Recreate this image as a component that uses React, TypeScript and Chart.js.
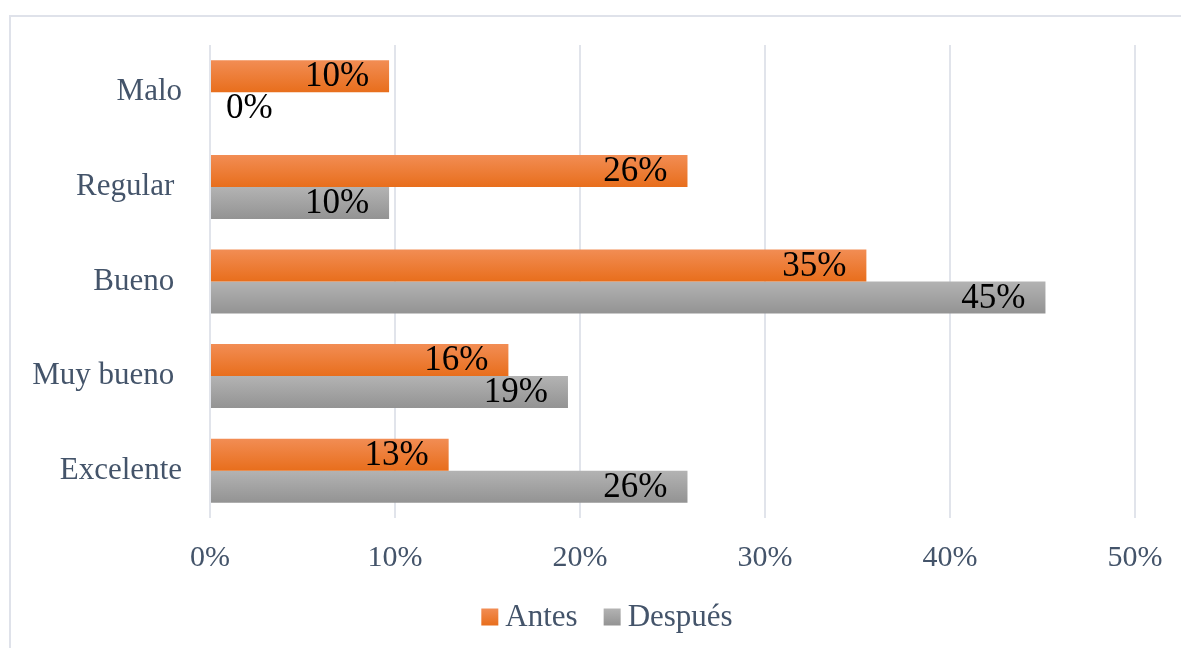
import React, { useEffect, useRef } from 'react';
import { Chart, registerables } from 'chart.js';

Chart.register(...registerables);

const categories = ['Malo', 'Regular ', 'Bueno ', 'Muy bueno ', 'Excelente'];
const seriesNames = ['Antes', 'Después'];
const antes = [9.68, 25.81, 35.48, 16.13, 12.9];
const despues = [0, 9.68, 45.16, 19.35, 25.81];
const xMax = 50;
const xStep = 10;

const FONT = '"Liberation Serif", "Times New Roman", serif';
const TEXT = '#44546a';
const CAT_PCT = 0.677;

const gradStops = [
  ['#f28d54', '#e86e1c'],
  ['#b3b3b3', '#939393'],
];

function makeGrad(c: CanvasRenderingContext2D, top: number, h: number, i: number) {
  const g = c.createLinearGradient(0, top, 0, top + h);
  g.addColorStop(0, gradStops[i][0]);
  g.addColorStop(1, gradStops[i][1]);
  return g;
}

const framePlugin = {
  id: 'frame',
  beforeDraw(chart: any) {
    const c = chart.ctx;
    c.save();
    c.fillStyle = '#ffffff';
    c.fillRect(0, 0, chart.width, chart.height);
    c.strokeStyle = '#dfe2ea';
    c.lineWidth = 2;
    c.beginPath();
    c.moveTo(10, chart.height);
    c.lineTo(10, 16);
    c.lineTo(chart.width, 16);
    c.stroke();
    c.restore();
  },
};

const labelPlugin = {
  id: 'barLabels',
  afterDatasetsDraw(chart: any) {
    const c = chart.ctx;
    c.save();
    c.font = `35px ${FONT}`;
    c.fillStyle = '#000000';
    c.textBaseline = 'middle';
    chart.data.datasets.forEach((ds: any, di: number) => {
      const meta = chart.getDatasetMeta(di);
      meta.data.forEach((el: any, i: number) => {
        const v = ds.data[i];
        const txt = Math.round(v) + '%';
        if (v === 0) {
          c.textAlign = 'left';
          c.fillText(txt, el.base + 16, el.y + 1);
        } else {
          c.textAlign = 'right';
          c.fillText(txt, el.x - 20, el.y + 1);
        }
      });
    });
    c.restore();
  },
};

const legendPlugin = {
  id: 'customLegend',
  afterDraw(chart: any) {
    const c = chart.ctx;
    c.save();
    c.font = `31px ${FONT}`;
    c.textBaseline = 'middle';
    const box = 17;
    const gap = 7;
    const spacing = 26;
    const widths = seriesNames.map((n) => c.measureText(n).width);
    const total = widths.reduce((a, w) => a + box + gap + w, 0) + spacing * (seriesNames.length - 1);
    let x = 607 - total / 2;
    const cy = 617;
    seriesNames.forEach((n, i) => {
      c.fillStyle = makeGrad(c, cy - box / 2, box, i);
      c.fillRect(x, cy - box / 2, box, box);
      c.fillStyle = TEXT;
      c.textAlign = 'left';
      c.fillText(n, x + box + gap, cy + 1);
      x += box + gap + widths[i] + spacing;
    });
    c.restore();
  },
};

function barColor(i: number) {
  return (ctx: any) => {
    const chart = ctx.chart;
    const y = chart.scales && chart.scales.y;
    if (!y || ctx.dataIndex === undefined) return gradStops[i][1];
    const center = y.getPixelForValue(ctx.dataIndex);
    const step = y.height / categories.length;
    const h = (step * CAT_PCT) / 2;
    const top = i === 0 ? center - h : center;
    if (!isFinite(center) || !isFinite(h) || h <= 0) return gradStops[i][1];
    return makeGrad(chart.ctx, top, h, i);
  };
}

export default function App() {
  const ref = useRef<HTMLCanvasElement>(null);
  useEffect(() => {
    if (!ref.current) return;
    const chart = new Chart(ref.current, {
      type: 'bar',
      data: {
        labels: categories,
        datasets: [
          { label: seriesNames[0], data: antes, backgroundColor: barColor(0) as any, borderWidth: 0 },
          { label: seriesNames[1], data: despues, backgroundColor: barColor(1) as any, borderWidth: 0 },
        ],
      },
      options: {
        indexAxis: 'y',
        responsive: false,
        animation: false,
        devicePixelRatio: 1,
        datasets: { bar: { categoryPercentage: CAT_PCT, barPercentage: 1 } },
        layout: { padding: { top: 45, right: 46, left: 0, bottom: 0 } },
        plugins: { legend: { display: false }, tooltip: { enabled: false } },
        scales: {
          x: {
            min: 0,
            max: xMax,
            ticks: {
              stepSize: xStep,
              padding: 22,
              color: TEXT,
              font: { family: FONT, size: 30 },
              callback: (v: any) => v + '%',
              maxRotation: 0,
            },
            grid: { color: '#e1e4eb', lineWidth: 2, drawTicks: false },
            border: { display: false },
            afterFit: (s: any) => {
              s.height = 130;
              s.paddingLeft = 0;
              s.paddingRight = 0;
            },
          },
          y: {
            ticks: { padding: 28, color: TEXT, font: { family: FONT, size: 31 } },
            grid: { display: false, drawTicks: false },
            border: { display: false },
            afterFit: (s: any) => {
              s.width = 210;
              s.paddingTop = 0;
              s.paddingBottom = 0;
            },
          },
        },
      },
      plugins: [framePlugin, labelPlugin, legendPlugin],
    });
    return () => chart.destroy();
  }, []);
  return (
    <div style={{ position: 'absolute', left: 0, top: 0, width: 1181, height: 648, overflow: 'hidden' }}>
      <canvas ref={ref} width={1181} height={648} style={{ display: 'block' }} />
    </div>
  );
}
